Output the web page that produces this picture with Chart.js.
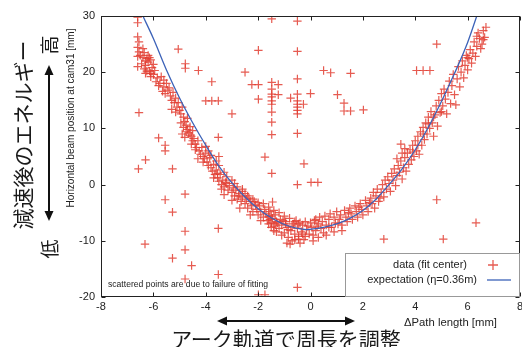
<!DOCTYPE html>
<html>
<head>
<meta charset="utf-8">
<script src="https://cdn.jsdelivr.net/npm/chart.js@4"></script>
<style>
  html, body { margin: 0; padding: 0; background: #fff; }
  canvas { display: block; }
</style>
</head>
<body>
<canvas id="beamChart" width="522" height="347"></canvas>
<script>
// points: main band along the parabola
const bandPoints = [
  [-6.6,29.8],[-6.6,28.8],[-6.6,26.3],[-6.55,25.4],[-6.6,24.4],[-6.55,23.6],[-6.6,22.8],[-6.4,24.2],[-6.35,23.5],[-6.4,22.6],
  [-6.3,22.0],[-6.45,21.5],[-6.3,21.2],[-6.35,20.6],[-6.2,23.0],[-6.2,21.8],[-6.15,20.2],[-6.6,21.0],[-6.1,19.8],[-6.0,19.6],
  [-6.3,19.8],[-5.95,20.3],[-5.85,19.0],[-5.9,18.3],[-5.7,19.2],[-5.75,18.0],[-5.6,18.6],[-5.6,17.4],[-5.5,18.0],[-5.45,16.8],
  [-6.25,22.4],[-6.1,22.2],[-6.0,21.4],[-6.05,20.8],[-6.25,20.2],[-6.1,19.2],[-6.5,23.0],[-6.15,22.6],[-5.8,17.6],[-5.65,16.6],
  [-5.55,16.2],[-5.4,17.2],[-5.35,15.8],[-5.3,15.0],[-5.25,16.4],[-5.2,14.6],[-5.15,15.4],[-5.1,13.8],[-5.05,14.6],[-5.0,13.2],
  [-4.95,12.6],[-5.15,12.9],[-4.9,13.8],[-4.85,12.0],[-4.8,11.2],[-4.75,10.6],[-4.7,9.8],[-4.7,11.8],[-4.65,9.2],[-4.6,10.3],
  [-4.85,10.2],[-4.75,9.4],[-4.6,8.8],[-4.9,9.0],[-4.8,8.4],[-4.95,11.0],[-5.3,13.4],[-4.55,7.2],[-4.4,6.2],[-4.1,4.0],
  [-4.55,8.6],[-4.5,9.6],[-4.5,7.8],[-4.45,8.2],[-4.4,7.2],[-4.35,6.6],[-4.3,7.8],[-4.25,6.0],[-4.2,5.4],[-4.15,6.6],
  [-4.1,5.0],[-4.05,4.6],[-4.0,5.6],[-3.95,4.0],[-3.9,3.4],[-3.85,4.8],[-3.8,3.0],[-3.75,2.4],[-3.7,3.6],[-3.65,1.8],
  [-3.9,6.0],[-4.0,6.8],[-3.6,4.2],[-3.5,3.4],[-3.3,2.2],[-3.2,1.4],[-3.0,0.8],[-2.8,-0.4],[-3.4,-0.8],[-2.9,0.2],
  [-2.6,-0.8],[-3.7,1.2],[-4.3,4.6],[-3.8,5.2],[-3.55,2.0],[-3.25,0.4],[-2.75,-2.0],[-2.5,-1.6],[-2.35,-2.4],[-2.15,-3.0],
  [-3.6,2.6],[-3.55,1.2],[-3.5,0.6],[-3.45,1.8],[-3.4,0.0],[-3.35,0.8],[-3.3,-0.4],[-3.2,0.2],[-3.15,-1.0],[-3.1,-0.2],
  [-3.0,-1.4],[-2.95,-0.6],[-2.9,-2.0],[-2.85,-1.0],[-2.8,-2.6],[-2.7,-1.6],[-2.65,-3.0],[-2.6,-2.2],[-2.5,-3.4],[-2.45,-2.6],
  [-2.4,-4.2],[-2.3,-3.0],[-2.25,-3.8],[-2.2,-4.8],[-2.1,-3.6],[-2.05,-4.4],[-2.0,-5.4],[-1.95,-3.8],[-1.9,-4.8],[-1.8,-5.8],
  [-1.75,-4.4],[-1.7,-5.2],[-1.65,-6.4],[-1.6,-5.6],[-1.55,-4.8],[-1.5,-6.8],[-1.45,-6.0],[-1.4,-7.4],[-1.35,-5.4],[-1.3,-6.6],
  [-2.6,-1.2],[-2.4,-2.0],[-2.2,-2.6],[-2.0,-3.2],[-1.8,-3.4],[-1.6,-4.0],[-1.4,-4.6],[-1.2,-5.0],[-1.0,-5.6],[-1.3,-8.4],
  [-1.1,-9.0],[-0.9,-10.4],[-0.6,-9.8],[-0.4,-10.4],[-0.2,-9.2],[0.1,-10.0],[0.3,-9.4],[0.6,-9.0],[0.9,-8.4],[1.2,-8.2],
  [-1.6,-7.0],[-1.9,-6.4],[-2.3,-5.4],[-2.7,-4.2],[-3.0,-2.8],[-3.3,-1.8],[-1.5,-5.6],[-1.5,-7.6],[-1.4,-8.2],[-1.25,-6.8],
  [-0.95,-7.0],[-0.7,-7.4],[-0.45,-7.0],[0.25,-7.4],[0.7,-7.6],[1.05,-7.0],[1.45,-5.0],[1.85,-4.0],[2.25,-3.2],[2.65,-2.4],
  [-0.78,-10.6],[-0.46,-9.7],[-1.45,-3.1],[-1.55,-6.2],[-1.35,-7.0],[-1.05,-6.4],[-0.85,-8.0],[-0.6,-6.6],[-0.3,-8.8],[0.2,-6.2],
  [-1.2,-7.8],[-1.15,-6.2],[-1.1,-7.2],[-1.0,-8.6],[-0.95,-6.6],[-0.9,-7.6],[-0.85,-9.4],[-0.8,-6.0],[-0.75,-8.2],[-0.7,-10.0],
  [-0.65,-7.0],[-0.6,-8.8],[-0.55,-6.4],[-0.5,-7.8],[-0.45,-9.2],[-0.4,-6.8],[-0.35,-8.4],[-0.3,-7.2],[-0.25,-9.8],[-0.2,-6.6],
  [-0.15,-8.0],[-0.1,-7.4],[-0.05,-8.8],[0.0,-6.8],[0.05,-7.6],[0.1,-9.0],[0.15,-6.4],[0.2,-8.2],[0.3,-7.0],[0.35,-5.8],
  [0.4,-7.8],[0.45,-6.6],[0.5,-8.6],[0.55,-5.6],[0.6,-7.2],[0.7,-6.2],[0.75,-5.2],[0.8,-7.6],[0.9,-5.8],[0.95,-6.8],
  [1.0,-4.8],[1.1,-6.2],[1.15,-5.4],[1.2,-7.2],[1.3,-4.6],[1.35,-5.8],[1.4,-6.6],[1.5,-4.2],[1.55,-5.2],[1.6,-6.2],
  [1.7,-3.8],[1.75,-4.8],[1.8,-5.8],[1.9,-3.4],[1.95,-4.4],[2.0,-5.4],[2.1,-2.8],[2.15,-3.8],[2.2,-4.8],[2.3,-2.4],
  [2.35,-3.4],[2.4,-1.4],[2.45,-4.2],[2.5,-2.0],[2.55,-0.8],[2.6,-3.0],[2.7,-1.4],[2.75,0.0],[2.8,-2.2],[2.85,0.8],
  [2.9,-0.8],[2.95,1.4],[3.0,0.2],[3.05,-1.2],[3.1,2.0],[3.15,0.8],[3.2,2.8],[3.25,-0.2],[3.3,1.6],[3.35,3.4],
  [3.4,2.2],[3.45,4.2],[3.5,1.0],[3.55,3.0],[3.6,4.8],[3.65,2.4],[3.7,5.6],[3.75,3.6],[3.8,6.2],[3.85,4.4],
  [3.45,7.2],[3.5,5.6],[3.3,4.6],[3.6,6.4],[3.9,5.8],[4.1,7.0],[4.3,9.0],[4.5,10.8],[4.7,12.0],[5.0,13.0],
  [3.9,7.0],[3.95,5.0],[4.0,7.8],[4.05,6.0],[4.1,8.6],[4.15,5.4],[4.2,9.4],[4.25,7.0],[4.3,10.2],[4.35,8.0],
  [4.4,11.0],[4.45,9.0],[4.5,12.0],[4.55,10.0],[4.6,13.0],[4.65,11.0],[4.7,8.6],[4.75,12.4],[4.8,14.0],[4.85,10.4],
  [4.9,15.0],[4.95,12.8],[5.0,16.2],[5.05,14.0],[5.1,17.0],[5.15,15.2],[5.2,12.6],[5.25,16.4],[5.3,18.4],[5.35,14.4],
  [5.4,17.6],[5.45,19.6],[5.5,16.0],[5.55,14.2],[5.6,18.8],[5.65,21.0],[5.7,17.4],[5.75,20.0],[5.8,22.0],[5.85,19.0],
  [5.9,21.2],[5.95,23.0],[6.0,20.4],[6.05,22.4],[6.1,24.0],[6.15,21.6],[6.2,23.4],[6.25,25.4],[6.3,22.8],[6.35,24.6],
  [6.4,27.0],[6.45,26.0],[6.5,24.2],[6.55,25.0],[6.6,27.4],[6.65,26.2],[6.7,28.0],[6.6,25.8],[6.35,26.4],[6.0,22.6]
];

// stray points (failed fits)
const strayPoints = [
  [-6.55,12.8],[-5.05,24.1],[-4.78,21.5],[-4.78,20.7],[-4.28,20.3],[-3.77,18.3],[-4.0,14.9],[-3.77,14.9],[-3.52,14.9],[-3.0,12.6],
  [-2.5,20.0],[-2.24,17.8],[-1.99,17.8],[-1.99,15.2],[-1.99,23.9],[-1.74,4.9],[-1.48,29.5],[-0.5,29.1],[-0.5,23.7],[-1.48,18.2],
  [-1.23,17.8],[-1.48,17.0],[-1.48,16.1],[-1.48,15.6],[-1.48,14.9],[-1.48,14.3],[-1.48,12.9],[-1.48,11.1],[-1.48,8.9],[-1.23,16.0],
  [-0.5,18.8],[-0.5,16.1],[-0.5,14.9],[-0.5,14.3],[-0.5,13.8],[-0.5,13.2],[-0.5,12.6],[-0.27,14.3],[-0.76,15.4],[0.0,16.2],
  [-0.5,9.1],[0.5,20.3],[0.77,19.9],[1.53,19.8],[1.03,16.0],[1.28,14.5],[1.28,13.1],[1.53,13.1],[2.02,13.3],[4.82,25.0],
  [4.05,20.3],[4.3,20.3],[4.56,20.3],[-5.8,8.3],[-5.55,7.0],[-5.55,6.0],[-3.52,8.4],[-6.3,4.4],[-3.5,5.0],[-0.25,3.7],
  [-1.48,2.0],[-0.5,0.0],[0.02,0.4],[0.28,0.4],[4.82,-2.7],[6.32,-6.8],[2.8,-9.7],[5.07,-9.7],[-0.5,-18.3],[-1.99,-19.6],
  [-1.74,-19.6],[-6.57,2.8],[-5.27,2.8],[-4.79,-1.7],[-5.55,-2.7],[-5.27,-4.9],[-4.79,-8.3],[-3.52,-7.8],[-6.32,-10.6],[-4.79,-11.6],
  [-5.27,-13.1],[-4.54,-14.4],[-3.52,-16.0],[-4.79,-16.8]
];

// expectation curve
const curveX = [-6.4, -6.0, -5.5, -5.0, -4.5, -4.0, -3.5, -3.0, -2.5, -2.0, -1.5, -1.0, -0.5, -0.15, 0.5, 1.0, 1.5, 2.0, 2.5, 3.0, 3.5, 4.0, 4.5, 5.0, 5.5, 6.0, 6.35];
const curveY = [30, 26, 20.4, 15.4, 11.0, 7.0, 3.3, 0.3, -2.2, -4.3, -5.9, -7.1, -7.8, -8.0, -7.6, -7.0, -6.0, -4.6, -2.6, 0.0, 2.8, 6.2, 10.2, 14.8, 19.8, 25.3, 30];

const xTicks = [-8, -6, -4, -2, 0, 2, 4, 6, 8];
const yTicks = [-20, -10, 0, 10, 20, 30];

const RED = 'rgba(226,62,50,0.85)';
const BLUE = '#3c62b8';
const SANS = '"Liberation Sans", Arial, Helvetica, sans-serif';
const JP = '"Noto Sans CJK JP", sans-serif';

function arrow(ctx, x1, y1, x2, y2) {
  // double-headed arrow
  const ang = Math.atan2(y2 - y1, x2 - x1);
  const hl = 10, hw = 4.5;
  ctx.beginPath();
  ctx.moveTo(x1 + Math.cos(ang) * hl * 0.8, y1 + Math.sin(ang) * hl * 0.8);
  ctx.lineTo(x2 - Math.cos(ang) * hl * 0.8, y2 - Math.sin(ang) * hl * 0.8);
  ctx.stroke();
  [[x1, y1, ang + Math.PI], [x2, y2, ang]].forEach(([x, y, a]) => {
    ctx.beginPath();
    ctx.moveTo(x, y);
    ctx.lineTo(x - Math.cos(a) * hl - Math.sin(a) * hw, y - Math.sin(a) * hl + Math.cos(a) * hw);
    ctx.lineTo(x - Math.cos(a) * hl + Math.sin(a) * hw, y - Math.sin(a) * hl - Math.cos(a) * hw);
    ctx.closePath();
    ctx.fill();
  });
}

function rotText(ctx, text, x, y) {
  ctx.save();
  ctx.translate(x, y);
  ctx.rotate(-Math.PI / 2);
  ctx.fillText(text, 0, 0);
  ctx.restore();
}

const decorations = {
  id: 'decorations',
  afterDatasetsDraw(chart) {
    const ctx = chart.ctx;
    const a = chart.chartArea;
    const xs = chart.scales.x, ys = chart.scales.y;
    const L = Math.round(a.left) + 0.5, R = Math.round(a.right) - 0.5;
    const T = Math.round(a.top) + 0.5, B = Math.round(a.bottom) - 0.5;
    ctx.save();

    // frame and inward ticks
    ctx.strokeStyle = '#222';
    ctx.lineWidth = 1;
    ctx.strokeRect(L, T, R - L, B - T);
    ctx.beginPath();
    xTicks.forEach(v => {
      const px = Math.round(xs.getPixelForValue(v)) + 0.5;
      ctx.moveTo(px, B); ctx.lineTo(px, B - 4);
      ctx.moveTo(px, T); ctx.lineTo(px, T + 4);
    });
    yTicks.forEach(v => {
      const py = Math.round(ys.getPixelForValue(v)) + 0.5;
      ctx.moveTo(L, py); ctx.lineTo(L + 4, py);
      ctx.moveTo(R, py); ctx.lineTo(R - 4, py);
    });
    ctx.stroke();

    // legend box in the lower right corner
    const lx = 345.5, ly = 253.5;
    ctx.fillStyle = '#fff';
    ctx.fillRect(lx, ly, R - lx, B - ly);
    ctx.strokeStyle = '#999';
    ctx.strokeRect(lx, ly, R - lx, B - ly);
    ctx.fillStyle = '#222';
    ctx.font = '11px ' + SANS;
    ctx.textAlign = 'right';
    ctx.textBaseline = 'middle';
    ctx.fillText('data (fit center)', 467, 265);
    ctx.fillText('expectation (\u03b7=0.36m)', 477, 280);
    ctx.strokeStyle = RED;
    ctx.lineWidth = 1.3;
    ctx.beginPath();
    ctx.moveTo(488, 265); ctx.lineTo(498, 265);
    ctx.moveTo(493, 260); ctx.lineTo(493, 270);
    ctx.stroke();
    ctx.strokeStyle = BLUE;
    ctx.lineWidth = 1.3;
    ctx.beginPath();
    ctx.moveTo(487, 280); ctx.lineTo(511, 280);
    ctx.stroke();

    // note inside the plot
    ctx.fillStyle = '#222';
    ctx.textAlign = 'left';
    ctx.font = '8.6px ' + SANS;
    ctx.fillText('scattered points are due to failure of fitting', 108, 285);

    // axis titles
    ctx.font = '11.3px ' + SANS;
    ctx.fillText('\u0394Path length [mm]', 404, 323);
    ctx.textAlign = 'center';
    ctx.font = '10px ' + SANS;
    rotText(ctx, 'Horizontal beam position at cam31 [mm]', 71, 118);

    // Japanese annotations
    ctx.fillStyle = '#1a1a1a';
    ctx.font = '21px ' + JP;
    rotText(ctx, '減速後のエネルギー', 23, 135);
    ctx.font = '19px ' + JP;
    rotText(ctx, '高', 50, 45);
    rotText(ctx, '低', 50, 249);
    ctx.font = '21px ' + JP;
    ctx.fillText('アーク軌道で周長を調整', 286, 339);

    ctx.strokeStyle = '#111';
    ctx.fillStyle = '#111';
    ctx.lineWidth = 2;
    arrow(ctx, 49, 65, 49, 221);
    arrow(ctx, 217, 321, 355, 321);
    ctx.restore();
  }
};

const allPoints = bandPoints.concat(strayPoints).map(p => ({ x: p[0], y: p[1] }));
const curvePoints = curveX.map((x, i) => ({ x: x, y: curveY[i] }));

new Chart(document.getElementById('beamChart'), {
  type: 'scatter',
  data: {
    datasets: [
      {
        label: 'expectation',
        data: curvePoints,
        showLine: true,
        borderColor: BLUE,
        borderWidth: 1.3,
        pointRadius: 0,
        cubicInterpolationMode: 'monotone',
        order: 0
      },
      {
        label: 'data (fit center)',
        data: allPoints,
        pointStyle: 'cross',
        pointRadius: 4.2,
        borderColor: RED,
        backgroundColor: RED,
        borderWidth: 1.2,
        order: 1
      }
    ]
  },
  options: {
    responsive: false,
    devicePixelRatio: 1,
    animation: false,
    layout: { autoPadding: false, padding: { left: 0, right: 2, top: 16, bottom: 0 } },
    plugins: { legend: { display: false }, tooltip: { enabled: false } },
    scales: {
      x: {
        type: 'linear', min: -8, max: 8,
        afterBuildTicks: s => { s.ticks = xTicks.map(v => ({ value: v })); },
        afterFit: s => { s.height = 50; s.paddingLeft = 0; s.paddingRight = 0; },
        grid: { display: false, drawTicks: false },
        border: { display: false },
        ticks: { color: '#222', padding: 3, maxRotation: 0, font: { family: SANS, size: 11 } }
      },
      y: {
        type: 'linear', min: -20, max: 30,
        afterBuildTicks: s => { s.ticks = yTicks.map(v => ({ value: v })); },
        afterFit: s => { s.width = 101; s.paddingTop = 0; s.paddingBottom = 0; },
        grid: { display: false, drawTicks: false },
        border: { display: false },
        ticks: { color: '#222', padding: 6, font: { family: SANS, size: 11 } }
      }
    }
  },
  plugins: [decorations]
});
</script>
</body>
</html>
